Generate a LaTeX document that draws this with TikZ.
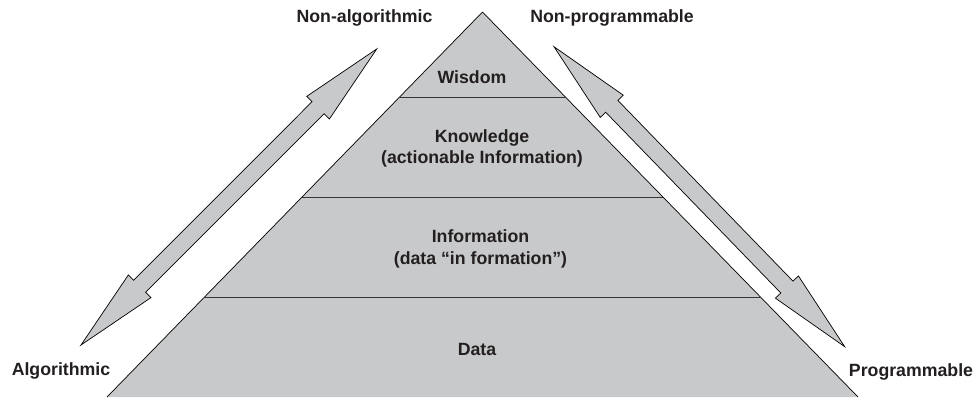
\documentclass[tikz,border=0pt]{standalone}
\usepackage{fontspec}
\setmainfont{Liberation Sans}
\usetikzlibrary{calc}
\definecolor{pyrgray}{RGB}{200,201,203}
\definecolor{inkdark}{RGB}{35,31,32}
\tikzset{
  lbl/.style={font=\fontsize{12.6}{15.3}\selectfont\bfseries,text=inkdark,inner sep=0pt},
  edge/.style={line width=0.5pt,color=black},
  layer/.style={line width=0.9pt,color=inkdark!90},
  blockarrow/.style={fill=pyrgray,draw=black,line width=0.5pt,line join=miter}
}
\begin{document}
\begin{tikzpicture}[x=0.025cm,y=-0.025cm]
  \useasboundingbox (0,0) rectangle (976,397);
  % pyramid
  \coordinate (apex) at (482.5,12);
  \coordinate (bl) at (107,397);
  \coordinate (br) at (858,397);
  \fill[pyrgray] (bl) -- (apex) -- (br) -- cycle;
  \draw[edge] (bl) -- (apex) -- (br);
  \foreach \f in {0.222,0.4818,0.7416}
    \draw[layer] ($(apex)!\f!(bl)$) -- ($(apex)!\f!(br)$);
  % left arrow
  \begin{scope}[shift={(81,345)},rotate=45.03]
    \draw[blockarrow] (0,0) -- (83,16) -- (83,8.5) -- (335.5,8.5) -- (335.5,16) -- (418.5,0)
      -- (335.5,-16) -- (335.5,-8.5) -- (83,-8.5) -- (83,-16) -- cycle;
  \end{scope}
  % right arrow
  \begin{scope}[shift={(554,46.7)},rotate=-45.9]
    \draw[blockarrow] (0,0) -- (83,16) -- (83,8.5) -- (334.7,8.5) -- (334.7,16) -- (417.7,0)
      -- (334.7,-16) -- (334.7,-8.5) -- (83,-8.5) -- (83,-16) -- cycle;
  \end{scope}
  % labels
  \node[lbl,anchor=base] (nonalg) at (364.5,22.7) {Non-algorithmic};
  \node[lbl,anchor=base] (nonprog) at (612,22.7) {Non-programmable};
  \node[lbl,anchor=base] (alg) at (61,375) {Algorithmic};
  \node[lbl,anchor=base] (prog) at (911,376.5) {Programmable};
  \node[lbl,anchor=base] (wisdom) at (472,83) {Wisdom};
  \node[lbl,align=center] (knowledge) at (482,148.4) {Knowledge\\(actionable Information)};
  \node[lbl,align=center] (information) at (480.5,248.7) {Information\\(data “in formation”)};
  \node[lbl,anchor=base] (data) at (477,355) {Data};
\end{tikzpicture}
\end{document}
